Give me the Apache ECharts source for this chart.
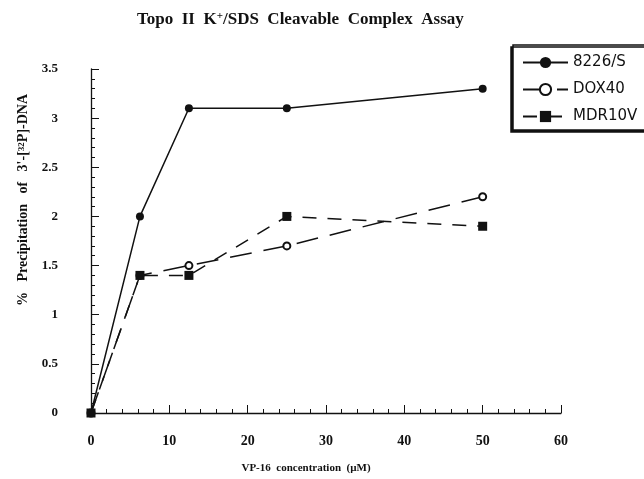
<!DOCTYPE html>
<html><head><meta charset="utf-8">
<script src="https://cdn.jsdelivr.net/npm/echarts@6/dist/echarts.min.js"></script>
<style>html,body{margin:0;padding:0;background:#fff}#c{width:644px;height:479px}</style>
</head><body><div id="c"></div>
<script>
const concentrations = [0, 6.25, 12.5, 25, 50];
const s8226 = [0, 2.0, 3.1, 3.1, 3.3];
const dox40 = [0, 1.4, 1.5, 1.7, 2.2];
const mdr10v = [0, 1.4, 1.4, 2.0, 1.9];
const seriesNames = ['8226/S', 'DOX40', 'MDR10V'];
const xTicks = [0, 10, 20, 30, 40, 50, 60];
const yTicks = [0, 0.5, 1, 1.5, 2, 2.5, 3, 3.5];

const pair = (ys) => concentrations.map((x, i) => [x, ys[i]]);
const serif = '"Liberation Serif", "Times New Roman", serif';
const chart = echarts.init(document.getElementById('c'), null, {renderer: 'canvas'});
chart.setOption({
  animation: false,
  backgroundColor: '#fff',
  title: {
    text: 'Topo  II  K{sup|+}/SDS  Cleavable  Complex  Assay',
    left: 132, top: 6,
    textStyle: {fontFamily: serif, fontWeight: 'bold', fontSize: 17, color: '#111',
      rich: {sup: {fontFamily: serif, fontWeight: 'bold', fontSize: 11, verticalAlign: 'top', padding: [0,0,7,0], color: '#111'}}}
  },
  legend: {
    orient: 'vertical', left: 513, top: 45, width: 130,
    padding: [10, 14, 6, 9], itemGap: 12, itemWidth: 45, itemHeight: 14,
    borderColor: '#111', borderWidth: 1.5, backgroundColor: '#fff',
    shadowColor: '#111', shadowOffsetX: -2, shadowOffsetY: 2, shadowBlur: 0,
    textStyle: {fontFamily: '"DejaVu Sans", sans-serif', fontSize: 15, color: '#111', lineHeight: 15},
    data: seriesNames
  },
  grid: {left: 91, right: 83, top: 69, bottom: 65, containLabel: false},
  xAxis: {
    type: 'value', min: 0, max: 60, interval: 10,
    name: 'VP-16  concentration  (µM)', nameLocation: 'middle', nameGap: 50,
    nameTextStyle: {fontFamily: serif, fontWeight: 'bold', fontSize: 11, color: '#111', padding: [0, 40, 0, 0]},
    axisLine: {lineStyle: {color: '#111', width: 1.3}},
    axisTick: {inside: true, length: 8, lineStyle: {color: '#111', width: 1}},
    minorTick: {show: true, splitNumber: 5, length: 4, lineStyle: {color: '#111', width: 1}},
    splitLine: {show: false},
    axisLabel: {margin: 21, fontFamily: serif, fontWeight: 'bold', fontSize: 14, color: '#111',
      formatter: (v) => xTicks.includes(v) ? String(v) : ''}
  },
  yAxis: {
    type: 'value', min: 0, max: 3.5, interval: 0.5,
    name: '%   Precipitation   of   3\'-[{sup|32}P]-DNA', nameLocation: 'middle', nameGap: 58, nameRotate: 90,
    nameTextStyle: {fontFamily: serif, fontWeight: 'bold', fontSize: 14, color: '#111', padding: [0, 0, 0, 82],
      rich: {sup: {fontFamily: serif, fontWeight: 'bold', fontSize: 9, verticalAlign: 'top', color: '#111'}}},
    axisLine: {lineStyle: {color: '#111', width: 1.3}},
    axisTick: {inside: true, length: 8, lineStyle: {color: '#111', width: 1}},
    minorTick: {show: true, splitNumber: 5, length: 4, lineStyle: {color: '#111', width: 1}},
    splitLine: {show: false},
    axisLabel: {margin: 33, fontFamily: serif, fontWeight: 'bold', fontSize: 13, color: '#111',
      formatter: (v) => yTicks.includes(v) ? String(v) : ''}
  },
  series: [
    {name: seriesNames[0], type: 'line', data: pair(s8226), symbol: 'circle', symbolSize: 8,
      lineStyle: {color: '#111', width: 1.5, type: 'solid'}, itemStyle: {color: '#111'}, z: 3},
    {name: seriesNames[1], type: 'line', data: pair(dox40), symbol: 'emptyCircle', symbolSize: 7,
      lineStyle: {color: '#111', width: 1.5, type: [22, 12]}, itemStyle: {color: '#111', borderColor: '#111', borderWidth: 1.5}, z: 2},
    {name: seriesNames[2], type: 'line', data: pair(mdr10v), symbol: 'rect', symbolSize: 9,
      lineStyle: {color: '#111', width: 1.5, type: [14, 11]}, itemStyle: {color: '#111'}, z: 4}
  ]
});
</script></body></html>
